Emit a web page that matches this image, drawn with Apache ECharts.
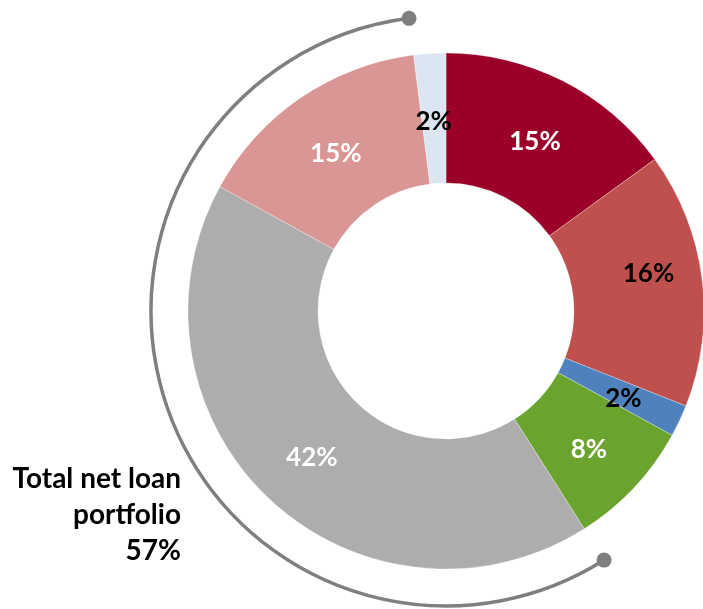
<!DOCTYPE html>
<html>
<head>
<meta charset="utf-8">
<script src="https://cdn.jsdelivr.net/npm/echarts@6/dist/echarts.min.js"></script>
<style>
  html, body { margin: 0; padding: 0; background: #ffffff; }
  #chart { width: 703px; height: 609px; }
</style>
</head>
<body>
<div id="chart"></div>
<script>
// Portfolio composition, clockwise from 12 o'clock (percent of total)
const segmentNames = ['Seg A', 'Seg B', 'Seg C', 'Seg D', 'Seg E', 'Seg F', 'Seg G'];
const segmentValues = [15, 16, 2, 8, 42, 15, 2];
const segmentColors = ['#9B0029', '#C0504D', '#4F81BD', '#6AA42F', '#ADADAD', '#D99694', '#DCE6F2'];
const labelColors = ['#ffffff', '#000000', '#000000', '#ffffff', '#ffffff', '#ffffff', '#000000'];
// Segments grouped under the bracket (net loan portfolio)
const bracketIndices = [4, 5];
const bracketTitle = ['Total net loan', 'portfolio'];

const CX = 446, CY = 311;
const R_IN = 128, R_OUT = 258, R_BRACKET = 295;
const FONT = 'Lato, "Open Sans", sans-serif';

// Label nudges (pixels) per segment
const labelOffsets = [[0, 5], [8, -13], [0, 4], [0, 4], [0, 4], [0, 5], [0, 6]];

const total = segmentValues.reduce((a, b) => a + b, 0);
const bracketSum = bracketIndices.reduce((s, i) => s + segmentValues[i], 0);

// Angle (radians, zrender convention: 0 = 3 o'clock, clockwise positive)
// of a cumulative share measured clockwise from 12 o'clock.
function angleAt(cumValue) {
  return -Math.PI / 2 + (cumValue / total) * Math.PI * 2;
}
const cumBefore = i => segmentValues.slice(0, i).reduce((a, b) => a + b, 0);
const lastIdx = bracketIndices[bracketIndices.length - 1];
const bStart = angleAt(cumBefore(bracketIndices[0]));
const bEnd = angleAt(cumBefore(lastIdx) + segmentValues[lastIdx]);

const dot = a => ({
  type: 'circle',
  shape: { cx: CX + R_BRACKET * Math.cos(a), cy: CY + R_BRACKET * Math.sin(a), r: 7.5 },
  style: { fill: '#7F7F7F' },
  z: 10
});

const chart = echarts.init(document.getElementById('chart'));
chart.setOption({
  animation: false,
  backgroundColor: '#ffffff',
  series: [{
    type: 'pie',
    center: [CX, CY],
    radius: [R_IN, R_OUT],
    startAngle: 90,
    clockwise: true,
    avoidLabelOverlap: false,
    itemStyle: { borderColor: '#ffffff', borderWidth: 0.3 },
    label: {
      show: true,
      position: 'inside',
      formatter: '{c}%',
      fontFamily: FONT,
      fontWeight: 'bold',
      fontSize: 26
    },
    labelLine: { show: false },
    emphasis: { disabled: true },
    data: segmentValues.map((v, i) => ({
      name: segmentNames[i],
      value: v,
      itemStyle: { color: segmentColors[i] },
      label: { color: labelColors[i], offset: labelOffsets[i] }
    }))
  }],
  graphic: [
    {
      type: 'arc',
      shape: { cx: CX, cy: CY, r: R_BRACKET, startAngle: bStart, endAngle: bEnd, clockwise: true },
      style: { stroke: '#7F7F7F', lineWidth: 3.5, fill: null },
      z: 9
    },
    dot(bStart),
    dot(bEnd),
    {
      type: 'text',
      x: 181,
      y: 461,
      style: {
        text: bracketTitle.concat([bracketSum + '%']).join('\n'),
        fontFamily: FONT,
        fontWeight: 'bold',
        fontSize: 28,
        lineHeight: 36,
        fill: '#000000',
        textAlign: 'right',
        textVerticalAlign: 'top'
      }
    }
  ]
});
</script>
</body>
</html>
